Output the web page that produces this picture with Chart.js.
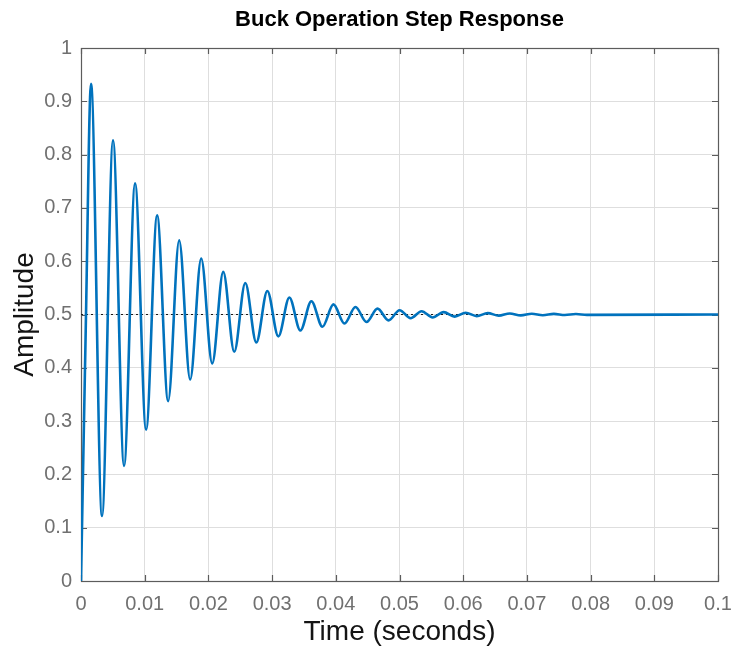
<!DOCTYPE html>
<html>
<head>
<meta charset="utf-8">
<title>Buck Operation Step Response</title>
<script src="https://cdn.jsdelivr.net/npm/chart.js@4/dist/chart.umd.min.js"></script>
<style>
  html, body { margin: 0; padding: 0; background: #ffffff; }
  #step-chart { display: block; }
</style>
</head>
<body>
<canvas id="step-chart" width="733" height="650"></canvas>
<script>
//time (s) of the start, the peaks and troughs and the settled end of the response
const timeSec = [
    0, 0.00074, 0.00157, 0.0033, 0.00503, 0.00676, 0.00849, 0.01022, 0.01195, 0.01368,
    0.01541, 0.01714, 0.01887, 0.0206, 0.02233, 0.02406, 0.02579, 0.02752, 0.02925, 0.03098,
    0.03271, 0.03444, 0.03617, 0.0379, 0.03963, 0.04136, 0.04309, 0.04482, 0.04655, 0.04828,
    0.05001, 0.05174, 0.05347, 0.0552, 0.05693, 0.05866, 0.06039, 0.06212, 0.06385, 0.06558,
    0.06731, 0.06904, 0.07077, 0.0725, 0.07423, 0.07596, 0.07769, 0.07942, 0.1
];
//amplitude at those times
const amplitude = [
    0, 0.47, 0.933, 0.122, 0.827, 0.216, 0.746, 0.284, 0.686, 0.3375,
    0.639, 0.378, 0.605, 0.408, 0.58, 0.43, 0.559, 0.4475, 0.544, 0.459,
    0.532, 0.47, 0.525, 0.477, 0.519, 0.483, 0.514, 0.486, 0.511, 0.489,
    0.508, 0.493, 0.506, 0.4945, 0.5045, 0.496, 0.5034, 0.497, 0.5026, 0.4978,
    0.502, 0.4983, 0.5015, 0.4987, 0.5011, 0.499, 0.5008, 0.4993, 0.5
];
//steady state value (dotted line)
const steadyTime = [0, 0.1];
const steadyValue = [0.5, 0.5];

const xTickValues = [0, 0.01, 0.02, 0.03, 0.04, 0.05, 0.06, 0.07, 0.08, 0.09, 0.1];
const xTickLabels = ["0", "0.01", "0.02", "0.03", "0.04", "0.05", "0.06", "0.07", "0.08", "0.09", "0.1"];
const yTickValues = [0, 0.1, 0.2, 0.3, 0.4, 0.5, 0.6, 0.7, 0.8, 0.9, 1];
const yTickLabels = ["0", "0.1", "0.2", "0.3", "0.4", "0.5", "0.6", "0.7", "0.8", "0.9", "1"];

const toPoints = (xs, ys) => xs.map((t, i) => ({x: t, y: ys[i]}));

//axes box with the small inward tick marks, like matlab draws it
const axesBox = {
    id: "axesBox",
    beforeDatasetsDraw(chart){
        const {ctx, chartArea: a, scales} = chart;
        const len = 6;
        ctx.save();
        ctx.strokeStyle = "#5c5c5c";
        ctx.lineWidth = 1.2;
        ctx.strokeRect(Math.round(a.left) + 0.5, Math.round(a.top) + 0.5,
            Math.round(a.right - a.left), Math.round(a.bottom - a.top));
        ctx.beginPath();
        xTickValues.forEach(v =>{
            const px = Math.round(scales.x.getPixelForValue(v)) + 0.5;
            ctx.moveTo(px, a.bottom); ctx.lineTo(px, a.bottom - len);
            ctx.moveTo(px, a.top); ctx.lineTo(px, a.top + len);
        });
        yTickValues.forEach(v =>{
            const py = Math.round(scales.y.getPixelForValue(v)) + 0.5;
            ctx.moveTo(a.left, py); ctx.lineTo(a.left + len, py);
            ctx.moveTo(a.right, py); ctx.lineTo(a.right - len, py);
        });
        ctx.stroke();
        ctx.restore();
    }
};

new Chart("step-chart", {
    type: "line",
    data: {
        datasets: [{
            data: toPoints(timeSec, amplitude),
            borderColor: "#0072BD",
            borderWidth: 2.6,
            pointRadius: 0,
            cubicInterpolationMode: "monotone",
            fill: false
        }, {
            data: toPoints(steadyTime, steadyValue),
            borderColor: "#1a1a1a",
            borderWidth: 1.2,
            borderDash: [2, 3],
            pointRadius: 0,
            fill: false
        }]
    },
    options: {
        responsive: false,
        animation: false,
        layout: {padding: {left: 0, right: 0, top: 0, bottom: 0}},
        plugins: {
            legend: {display: false},
            tooltip: {enabled: false},
            title: {
                display: true,
                fullSize: false,
                text: "Buck Operation Step Response",
                color: "#000000",
                font: {family: "Liberation Sans", size: 22, weight: "bold"},
                padding: {top: 7, bottom: 14.6}
            }
        },
        scales: {
            x: {
                type: "linear",
                min: 0,
                max: 0.1,
                afterBuildTicks: scale =>{ scale.ticks = xTickValues.map(v => ({value: v})); },
                afterFit: scale =>{
                    scale.height = 69;
                    scale.paddingRight = 15;
                },
                ticks: {
                    callback: (v, i) => xTickLabels[i],
                    color: "#707070",
                    padding: 11,
                    maxRotation: 0,
                    font: {family: "Liberation Sans", size: 20}
                },
                grid: {color: "#dedede", drawTicks: false},
                border: {display: false},
                title: {
                    display: true,
                    text: "Time (seconds)",
                    color: "#141414",
                    font: {family: "Liberation Sans", size: 28},
                    padding: {top: 1, bottom: 1}
                }
            },
            y: {
                type: "linear",
                min: 0,
                max: 1,
                afterBuildTicks: scale =>{ scale.ticks = yTickValues.map(v => ({value: v})); },
                afterFit: scale =>{ scale.width = 81; },
                ticks: {
                    callback: (v, i) => yTickLabels[i],
                    color: "#707070",
                    padding: 9,
                    font: {family: "Liberation Sans", size: 20}
                },
                grid: {color: "#dedede", drawTicks: false},
                border: {display: false},
                title: {
                    display: true,
                    text: "Amplitude",
                    color: "#141414",
                    font: {family: "Liberation Sans", size: 28},
                    padding: {top: 8, bottom: 0}
                }
            }
        }
    },
    plugins: [axesBox]
});
</script>
</body>
</html>
